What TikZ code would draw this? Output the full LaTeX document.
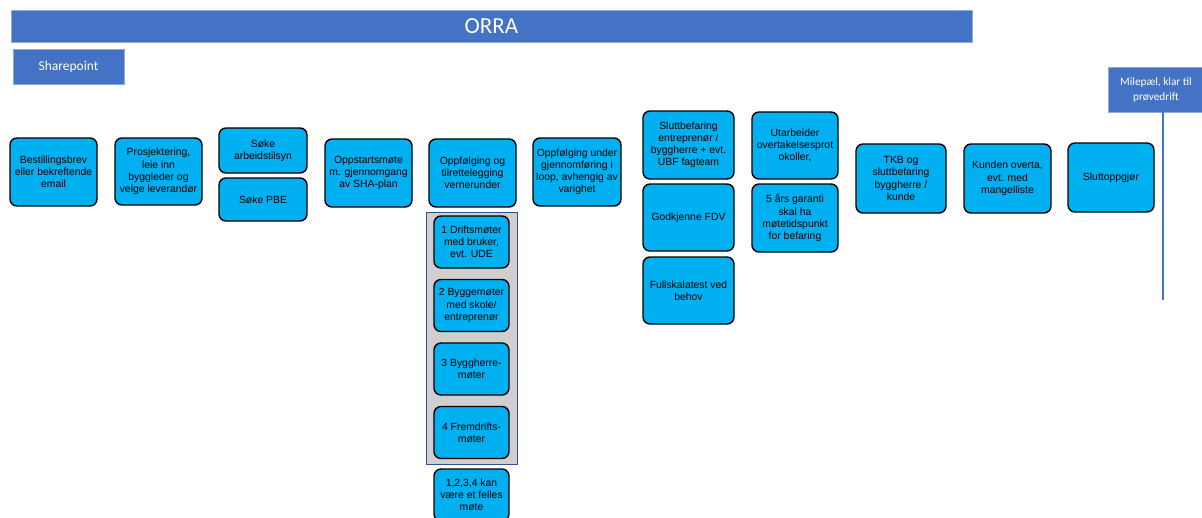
\documentclass[tikz,border=0pt]{standalone}
\usepackage{fontspec}
\setmainfont{Liberation Sans}
\newfontfamily\calibri{Carlito}
\definecolor{boxcyan}{HTML}{00B0F0}
\definecolor{hdrblue}{HTML}{4472C4}
\definecolor{hdredge}{HTML}{8FAADC}
\definecolor{grayfill}{HTML}{D0CECE}
\definecolor{grayedge}{HTML}{2F528F}
\tikzset{
  bx/.style={draw=black, line width=1.4pt, fill=boxcyan, rounded corners=7pt,
    align=center, inner sep=1pt, font=\fontsize{10.4}{12.2}\selectfont, text=black},
  hdr/.style={draw=hdredge, line width=0.8pt, fill=hdrblue, text=white, align=center, inner sep=0pt},
  grp/.style={draw=grayedge, line width=0.8pt, fill=grayfill},
  msline/.style={draw=hdrblue, line width=1.8pt}
}
\begin{document}
\begin{tikzpicture}[x=1pt,y=-1pt]
\useasboundingbox (0,0) rectangle (1202,517);
\fill[white] (0,0) rectangle (1202,517);
% header
\node[hdr, minimum width=961pt, minimum height=32pt, font=\calibri\fontsize{23}{26}\selectfont] (orra) at (491.5,26) {ORRA};
\node[hdr, minimum width=111pt, minimum height=35pt, font=\calibri\fontsize{13.5}{16}\selectfont] (share) at (68.5,66.5) {Sharepoint};
\node[hdr, minimum width=95pt, minimum height=45pt, font=\calibri\fontsize{11.3}{15}\selectfont] (mile) at (1156,89.5) {Milepæl, klar til\\prøvedrift};
\coordinate (mileend) at (1163,300);
\draw[msline] (mile.south -| mileend) -- (mileend);
% gray group
\node[grp, minimum width=91pt, minimum height=252pt, inner sep=0pt] (grp) at (472,338) {};
% row boxes
\node[bx, minimum width=87pt, minimum height=68pt] (b1) at (53.5,172) {Bestillingsbrev\\eller bekreftende\\email};
\node[bx, minimum width=87pt, minimum height=67pt] (b2) at (158.5,171.5) {Prosjektering,\\leie inn\\byggleder og\\velge leverandør};
\node[bx, minimum width=88pt, minimum height=45pt] (b3a) at (263,150.5) {Søke\\arbeidstilsyn};
\node[bx, minimum width=88pt, minimum height=43pt] (b3b) at (263,199.5) {Søke PBE};
\node[bx, minimum width=87pt, minimum height=68pt] (b4) at (368.5,173) {Oppstartsmøte\\m. gjennomgang\\av SHA-plan};
\node[bx, minimum width=87pt, minimum height=68pt] (b5) at (472.5,173) {Oppfølging og\\tilrettelegging\\vernerunder};
\node[bx, minimum width=88pt, minimum height=68pt] (b6) at (577,172) {Oppfølging under\\gjennomføring i\\loop, avhengig av\\varighet};
\node[bx, minimum width=91pt, minimum height=68pt] (b7a) at (688.5,145) {Sluttbefaring\\entreprenør /\\byggherre + evt.\\UBF fagteam};
\node[bx, minimum width=91pt, minimum height=67pt] (b7b) at (688.5,217.5) {Godkjenne FDV};
\node[bx, minimum width=91pt, minimum height=67pt] (b7c) at (688.5,290.5) {Fullskalatest ved\\behov};
\node[bx, minimum width=86pt, minimum height=67pt] (b8a) at (795,145.5) {Utarbeider\\overtakelsesprot\\okoller,};
\node[bx, minimum width=86pt, minimum height=68pt] (b8b) at (795,218) {5 års garanti\\skal ha\\møtetidspunkt\\for befaring};
\node[bx, minimum width=90pt, minimum height=69pt] (b9) at (901,178.5) {TKB og\\sluttbefaring\\byggherre /\\kunde};
\node[bx, minimum width=87pt, minimum height=69pt] (b10) at (1007.5,178.5) {Kunden overta,\\evt. med\\mangelliste};
\node[bx, minimum width=86pt, minimum height=69pt] (b11) at (1111,177.5) {Sluttoppgjør};
% group boxes
\node[bx, minimum width=75pt, minimum height=52pt] (g1) at (471.5,242) {1 Driftsmøter\\med bruker,\\evt. UDE};
\node[bx, minimum width=75pt, minimum height=52pt] (g2) at (471.5,305.5) {2 Byggemøter\\med skole/\\entreprenør};
\node[bx, minimum width=75pt, minimum height=52pt] (g3) at (471.5,369) {3 Byggherre-\\møter};
\node[bx, minimum width=75pt, minimum height=52pt] (g4) at (471.5,432.5) {4 Fremdrifts-\\møter};
\node[bx, minimum width=75pt, minimum height=52pt] (g5) at (471.5,495) {1,2,3,4 kan\\være et felles\\møte};
\end{tikzpicture}
\end{document}
